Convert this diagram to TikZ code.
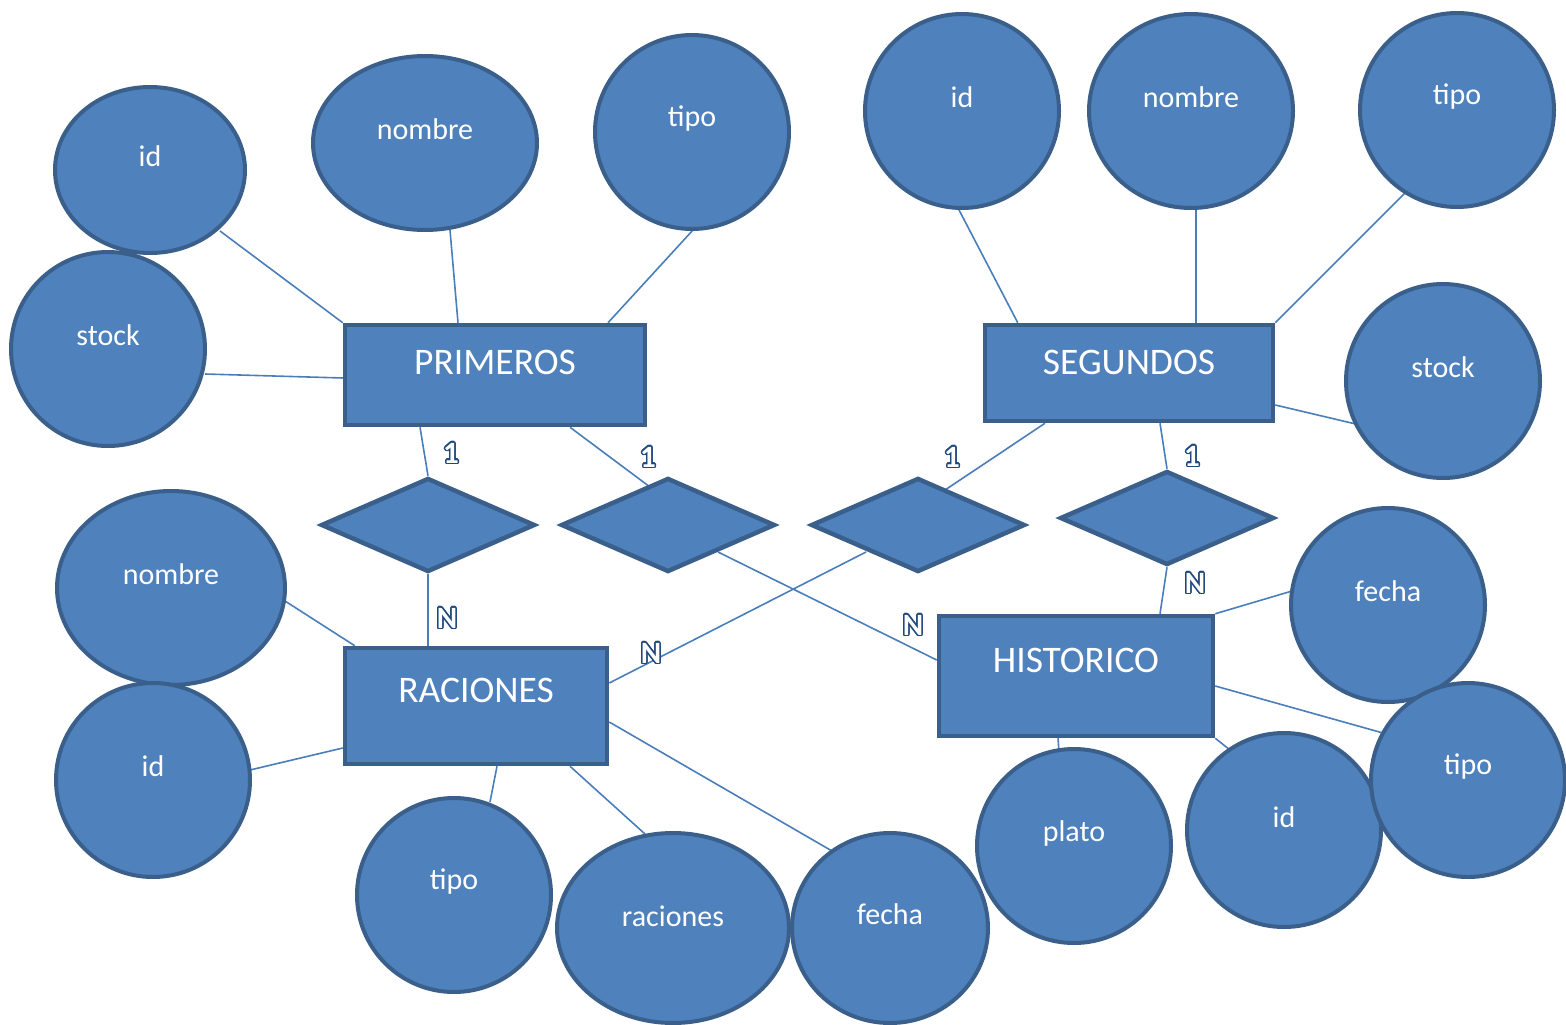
\documentclass[tikz,border=0pt]{standalone}
\usepackage{fontspec}
\setmainfont{Carlito}
\usepackage{contour}
\contourlength{1.5pt}
\usetikzlibrary{shapes.geometric,calc}
\definecolor{fillb}{HTML}{4F81BD}
\definecolor{edgeb}{HTML}{3A5F8B}
\definecolor{lineb}{HTML}{4A7EBB}
\definecolor{cardb}{HTML}{1F497D}
\pgfdeclarelayer{background}
\pgfsetlayers{background,main}
\tikzset{
  attr/.style={ellipse, draw=edgeb, fill=fillb, line width=4pt, inner sep=0pt},
  attrtext/.style={text=white, font=\fontsize{30}{34}\selectfont, inner sep=0pt},
  ent/.style={rectangle, draw=edgeb, fill=fillb, line width=4.5pt, inner sep=0pt},
  enttext/.style={text=white, font=\fontsize{37.5}{42}\selectfont, inner sep=0pt},
  rel/.style={diamond, draw=edgeb, fill=fillb, line width=4.5pt, inner sep=0pt,
    minimum width=214pt, minimum height=94pt},
  conn/.style={draw=lineb, line width=1.6pt},
  card/.style={text=white, font=\bfseries\fontsize{31}{36}\selectfont, inner sep=0pt},
}
\newcommand{\cardtxt}[1]{\contour{cardb}{#1}}
\begin{document}
\begin{tikzpicture}[x=1pt,y=-1pt]
\useasboundingbox (0,0) rectangle (1566,1025);
% entities
\node[ent, minimum width=300pt, minimum height=100pt, label={[enttext,yshift=13pt]center:PRIMEROS}] (prim) at (495,375) {};
\node[ent, minimum width=288pt, minimum height=96pt, label={[enttext,yshift=11pt]center:SEGUNDOS}] (seg) at (1129,373) {};
\node[ent, minimum width=262pt, minimum height=116pt, label={[enttext,yshift=16pt]center:RACIONES}] (rac) at (476,706) {};
\node[ent, minimum width=274pt, minimum height=120pt, label={[enttext,yshift=16pt]center:HISTORICO}] (hist) at (1076,676) {};
% relations
\node[rel] (d1) at (428,525) {};
\node[rel] (d2) at (668,525) {};
\node[rel] (d3) at (918,525) {};
\node[rel] (d4) at (1167,518) {};
% attributes PRIMEROS
\node[attr, minimum width=190pt, minimum height=166pt, label={[attrtext,yshift=14pt]center:id}] (pid) at (150,170) {};
\node[attr, minimum width=224pt, minimum height=174pt, label={[attrtext,yshift=14pt]center:nombre}] (pnom) at (425,143) {};
\node[attr, minimum width=194pt, minimum height=194pt, label={[attrtext,yshift=13pt]center:tipo}] (ptipo) at (692,132) {};
\node[attr, minimum width=194pt, minimum height=194pt, label={[attrtext,yshift=14pt]center:stock}] (pstock) at (108,349) {};
% attributes SEGUNDOS
\node[attr, minimum width=194pt, minimum height=194pt, label={[attrtext,yshift=14pt]center:id}] (sid) at (962,111) {};
\node[attr, minimum width=204pt, minimum height=194pt, label={[attrtext,yshift=14pt]center:nombre}] (snom) at (1191,111) {};
\node[attr, minimum width=194pt, minimum height=194pt, label={[attrtext,yshift=13pt]center:tipo}] (stipo) at (1457,110) {};
\node[attr, minimum width=194pt, minimum height=194pt, label={[attrtext,yshift=14pt]center:stock}] (sstock) at (1443,381) {};
% attributes RACIONES
\node[attr, minimum width=228pt, minimum height=194pt, label={[attrtext,yshift=14pt]center:nombre}] (rnom) at (171,588) {};
\node[attr, minimum width=194pt, minimum height=194pt, label={[attrtext,yshift=14pt]center:id}] (rid) at (153,780) {};
\node[attr, minimum width=194pt, minimum height=194pt, label={[attrtext,yshift=13pt]center:tipo}] (rtipo) at (454,895) {};
\node[attr, minimum width=232pt, minimum height=190pt, label={[attrtext,yshift=12pt]center:raciones}] (rrac) at (673,928) {};
\node[attr, minimum width=196pt, minimum height=190pt, label={[attrtext,yshift=14pt]center:fecha}] (rfecha) at (890,928) {};
% attributes HISTORICO
\node[attr, minimum width=194pt, minimum height=194pt, label={[attrtext,yshift=14pt]center:fecha}] (hfecha) at (1388,605) {};
\node[attr, minimum width=194pt, minimum height=194pt, label={[attrtext,yshift=13pt]center:plato}] (hplato) at (1074,846) {};
\node[attr, minimum width=194pt, minimum height=194pt, label={[attrtext,yshift=13pt]center:id}] (hid) at (1284,830) {};
\node[attr, minimum width=194pt, minimum height=194pt, label={[attrtext,yshift=13pt]center:tipo}] (htipo) at (1468,780) {};
% connectors
\begin{pgfonlayer}{background}
\draw[conn] ($(pid)+(70,61)$) -- (prim.north west);
\draw[conn] ($(pnom)+(25,87)$) -- ($(prim.north)+(-37,0)$);
\draw[conn] ($(ptipo)+(1,98)$) -- ($(prim.north)+(113,0)$);
\draw[conn] ($(pstock)+(97,25)$) -- ($(prim.west)+(0,3)$);
\draw[conn] ($(sid)+(-4,97)$) -- ($(seg.north west)+(35,0)$);
\draw[conn] ($(snom)+(5,97)$) -- ($(seg.north)+(67,0)$);
\draw[conn] ($(stipo)+(-52,83)$) -- (seg.north east);
\draw[conn] ($(sstock)+(-83,44)$) -- ($(seg.east)+(0,32)$);
\draw[conn] ($(rnom)+(114,13)$) -- ($(rac.north west)+(12,0)$);
\draw[conn] ($(rid)+(97,-10)$) -- ($(rac.west)+(0,42)$);
\draw[conn] ($(rtipo)+(36,-93)$) -- ($(rac.south)+(21,0)$);
\draw[conn] ($(rrac)+(-28,-94)$) -- ($(rac.south)+(94,0)$);
\draw[conn] ($(rfecha)+(-58,-77)$) -- ($(rac.east)+(0,16)$);
\draw[conn] ($(hfecha)+(-96,-14)$) -- (hist.north east);
\draw[conn] ($(htipo)+(-85,-47)$) -- ($(hist.east)+(0,10)$);
\draw[conn] ($(hid)+(-54,-80)$) -- (hist.south east);
\draw[conn] ($(hplato)+(-15,-94)$) -- ($(hist.south)+(-18,0)$);
% relationships
\draw[conn] ($(prim.south)+(-75,0)$) -- (d1.north);
\draw[conn] (d1.south) -- ($(rac.north)+(-48,0)$);
\draw[conn] ($(prim.south)+(75,0)$) -- ($(d2.center)+(-18,-38)$);
\draw[conn] ($(d2.center)+(50,27)$) -- ($(hist.west)+(0,-16)$);
\draw[conn] ($(seg.south)+(-84,0)$) -- ($(d3.center)+(27,-35)$);
\draw[conn] ($(d3.center)+(-52,27)$) -- ($(rac.east)+(0,-23)$);
\draw[conn] ($(seg.south)+(31,0)$) -- (d4.north);
\draw[conn] (d4.south) -- ($(hist.north)+(84,0)$);
\end{pgfonlayer}
% cardinalities
\node[card] (c1) at (451,454) {\cardtxt{1}};
\node[card] (c2) at (648,458) {\cardtxt{1}};
\node[card] (c3) at (952,458) {\cardtxt{1}};
\node[card] (c4) at (1192,457) {\cardtxt{1}};
\node[card] (n1) at (447,619) {\cardtxt{N}};
\node[card] (n2) at (913,626) {\cardtxt{N}};
\node[card] (n3) at (651,654) {\cardtxt{N}};
\node[card] (n4) at (1195,584) {\cardtxt{N}};
\end{tikzpicture}
\end{document}
